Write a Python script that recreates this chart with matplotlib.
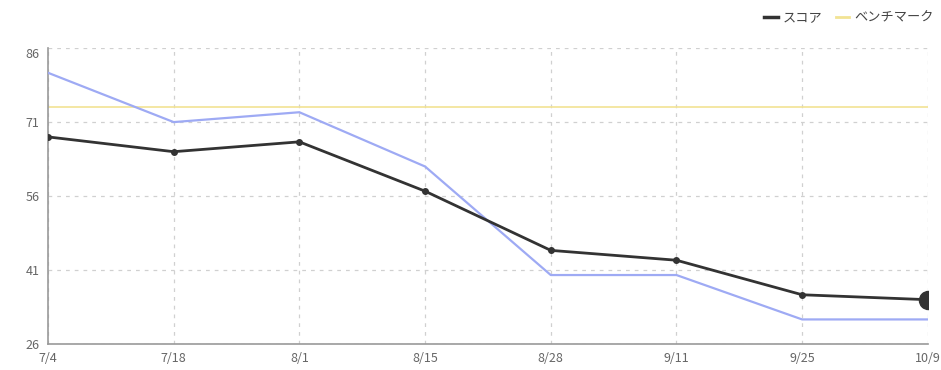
import matplotlib.pyplot as plt
from matplotlib.lines import Line2D

plt.rcParams['font.family'] = ['Noto Sans CJK JP', 'DejaVu Sans']

# データ
dates = ["7/4", "7/18", "8/1", "8/15", "8/28", "9/11", "9/25", "10/9"]
score = [68, 65, 67, 57, 45, 43, 36, 35]
reference = [81, 71, 73, 62, 40, 40, 31, 31]
benchmark = 74

y_ticks = [26, 41, 56, 71, 86]

fig = plt.figure(figsize=(9.41, 3.70), dpi=100)
ax = fig.add_axes([0.051, 0.070, 0.935, 0.800])

x = list(range(len(dates)))

ax.axhline(benchmark, color="#f2e394", linewidth=1.2, zorder=2)
ax.plot(x, reference, color="#9eaaf4", linewidth=1.6, zorder=3)
ax.plot(x, score, color="#333333", linewidth=2.0, marker="o", markersize=4, zorder=4)
ax.plot(x[-1], score[-1], "o", color="#333333", markersize=13, zorder=5)

ax.set_xlim(0, len(dates) - 1)
ax.set_ylim(26, 86)
ax.set_xticks(x)
ax.set_xticklabels(dates)
ax.set_yticks(y_ticks)
for lbl in ax.get_yticklabels():
    if lbl.get_text() == "86":
        lbl.set_verticalalignment("top")

ax.grid(True, color="#d0d0d0", linestyle=(0, (3, 4)), linewidth=0.9)
ax.set_axisbelow(True)
for side in ["top", "right"]:
    ax.spines[side].set_visible(False)
for side in ["left", "bottom"]:
    ax.spines[side].set_color("#999999")
    ax.spines[side].set_linewidth(1.2)
ax.tick_params(length=0, labelsize=9, colors="#666666", pad=6)

handles = [
    Line2D([0], [0], color="#333333", linewidth=2.5),
    Line2D([0], [0], color="#f2e394", linewidth=2.0),
]
fig.legend(handles, ["スコア", "ベンチマーク"], loc="upper right",
           bbox_to_anchor=(1.005, 1.0), ncol=2, frameon=False,
           fontsize=9.5, handlelength=1.0, handletextpad=0.4, columnspacing=1.0,
           labelcolor="#444444")

fig.savefig("out.png", dpi=100)
